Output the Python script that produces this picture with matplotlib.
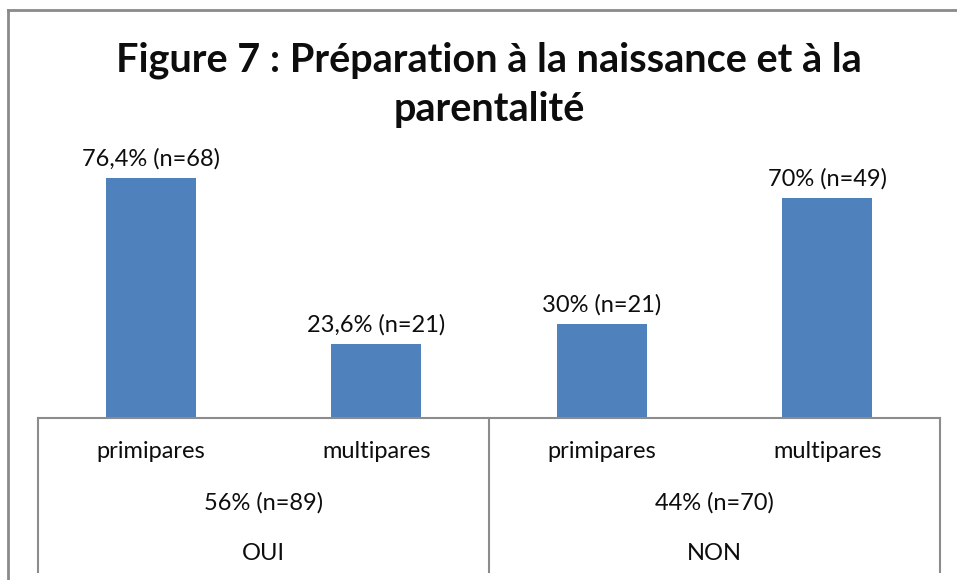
import matplotlib.pyplot as plt
from matplotlib.lines import Line2D

groups = ['OUI', 'NON']
group_labels = ['56% (n=89)', '44% (n=70)']
categories = ['primipares', 'multipares', 'primipares', 'multipares']
values = [76.4, 23.6, 30, 70]
bar_labels = ['76,4% (n=68)', '23,6% (n=21)', '30% (n=21)', '70% (n=49)']

W, H = 957, 580
plt.rcParams['font.family'] = ['Lato', 'DejaVu Sans']
fig = plt.figure(figsize=(W / 100, H / 100), dpi=100)

# axes in pixel geometry
left, right, base, top = 38, 940, 418, 135
ax = fig.add_axes([left / W, 1 - base / H, (right - left) / W, (base - top) / H])

xs = range(len(values))
ax.bar(xs, values, width=0.40, color='#4F81BD')
ax.set_xlim(-0.5, 3.5)
ax.set_ylim(0, 90)
ax.axis('off')

txt = '#0d0d0d'
fs = 17
for x, v, lab in zip(xs, values, bar_labels):
    ax.annotate(lab, (x, v), xytext=(0, 6), textcoords='offset points',
                ha='center', va='bottom', fontsize=fs, color=txt)

tr = ax.get_xaxis_transform()
hpx = base - top
row_y = [-34 / hpx, -85 / hpx, -135 / hpx]
for x, c in zip(xs, categories):
    ax.text(x, row_y[0], c, transform=tr, ha='center', va='center', fontsize=fs, color=txt)
for i, (g, gl) in enumerate(zip(groups, group_labels)):
    cx = 2 * i + 0.5
    ax.text(cx, row_y[1], gl, transform=tr, ha='center', va='center', fontsize=fs, color=txt)
    ax.text(cx, row_y[2], g, transform=tr, ha='center', va='center', fontsize=fs, color=txt)

# category axis table lines
lc = '#8c8c8c'
bottom_y = -(572 - base) / hpx
ax.plot([-0.5, 3.5], [0, 0], transform=tr, color=lc, lw=1.5, clip_on=False)
for vx in [-0.5, 1.5, 3.5]:
    ax.plot([vx, vx], [0, bottom_y], transform=tr, color=lc, lw=1.5, clip_on=False)

# chart area border (top and left visible)
fig.add_artist(Line2D([8 / W, 1], [1 - 9.5 / H, 1 - 9.5 / H], color='#8a8a8a', lw=2))
fig.add_artist(Line2D([8 / W, 8 / W], [0, 1 - 9.5 / H], color='#8a8a8a', lw=2))

tx = 489 / W
fig.text(tx, 1 - 60 / H, 'Figure 7 : Préparation à la naissance et à la',
         ha='center', va='center', fontsize=28.5, fontweight='bold', color=txt)
fig.text(tx, 1 - 110 / H, 'parentalité',
         ha='center', va='center', fontsize=28.5, fontweight='bold', color=txt)

fig.savefig('out.png', dpi=100)
